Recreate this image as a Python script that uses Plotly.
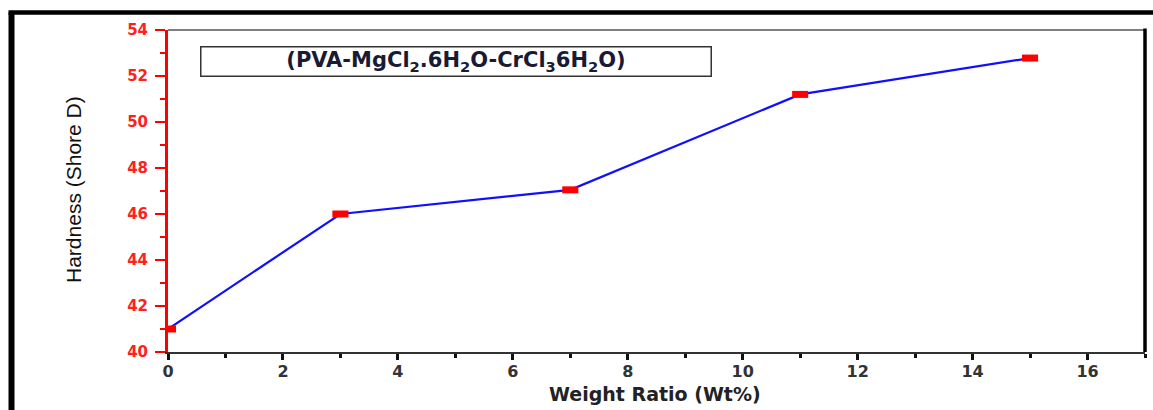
import plotly.graph_objects as go

# Data
weight_ratio = [0, 3, 7, 11, 15]
hardness = [41.0, 46.0, 47.05, 51.2, 52.78]
x_ticks = [0, 2, 4, 6, 8, 10, 12, 14, 16]
y_ticks = [40, 42, 44, 46, 48, 50, 52, 54]

W, H = 1153, 410
L, R, T, B = 168, 8, 30, 58
pw, ph = W - L - R, H - T - B

def px(xp):
    return (xp - L) / pw

def py(yp):
    return (H - B - yp) / ph

fig = go.Figure()
fig.add_trace(go.Scatter(
    x=weight_ratio, y=hardness, mode="lines",
    line=dict(color="#1010ff", width=2.2), showlegend=False, hoverinfo="skip"))
fig.add_trace(go.Scatter(
    x=weight_ratio, y=hardness, mode="markers",
    marker=dict(size=1, color="rgba(0,0,0,0)"),
    error_x=dict(type="constant", value=0.14, thickness=7, width=0, color="#ff0000"),
    showlegend=False, hoverinfo="skip"))

tickfont_y = dict(family="DejaVu Sans", size=15, color="#ff2020", weight="bold")
tickfont_x = dict(family="DejaVu Sans", size=16, color="#333333", weight="bold")

fig.update_layout(
    width=W, height=H,
    margin=dict(l=L, r=R, t=T, b=B),
    paper_bgcolor="white", plot_bgcolor="white",
    xaxis=dict(range=[0, 17], tickvals=x_ticks, showgrid=False, zeroline=False,
               showline=True, linecolor="#333333", linewidth=2,
               ticks="outside", ticklen=6, tickwidth=3, tickcolor="#111111",
               minor=dict(dtick=1, ticks="outside", ticklen=4, tickwidth=3, tickcolor="#111111"),
               tickfont=tickfont_x, ticklabelstandoff=-2),
    yaxis=dict(range=[40, 54], tickvals=y_ticks, showgrid=False, zeroline=False,
               showline=True, linecolor="#ff0000", linewidth=3,
               ticks="outside", ticklen=10, tickwidth=2, tickcolor="#ff0000",
               minor=dict(dtick=1, ticks="outside", ticklen=5, tickwidth=2, tickcolor="#ff0000"),
               tickfont=tickfont_y, ticklabelstandoff=4),
)

# plot frame (top & right)
fig.add_shape(type="line", xref="paper", yref="paper", x0=0, x1=1, y0=1, y1=1,
              line=dict(color="#555555", width=1.5), layer="below")
fig.add_shape(type="line", xref="paper", yref="paper", x0=1, x1=1, y0=0, y1=1.005,
              line=dict(color="#000000", width=3.5), layer="below")
# outer frame
fig.add_shape(type="line", xref="paper", yref="paper", x0=px(11.5), x1=px(11.5), y0=py(12.5), y1=py(420),
              line=dict(color="#000000", width=6))
fig.add_shape(type="line", xref="paper", yref="paper", x0=px(8.5), x1=px(1160), y0=py(12.5), y1=py(12.5),
              line=dict(color="#000000", width=4.5))

fig.add_annotation(
    xref="paper", yref="paper", x=px(456), y=py(62), xanchor="center", yanchor="middle",
    text="(PVA-MgCl<sub>2</sub>.6H<sub>2</sub>O-CrCl<sub>3</sub>6H<sub>2</sub>O)",
    showarrow=False, font=dict(family="DejaVu Sans", size=21, color="#1a1a33", weight="bold"),
    bordercolor="#333333", borderwidth=1.5, borderpad=1, width=507, height=26, align="center")

fig.add_annotation(
    xref="paper", yref="paper", x=px(73), y=py(190), xanchor="center", yanchor="middle",
    text="Hardness (Shore D)", textangle=-90, showarrow=False,
    font=dict(family="Liberation Sans", size=21, color="#111111"))

fig.add_annotation(
    xref="paper", yref="paper", x=px(655), y=py(394), xanchor="center", yanchor="middle",
    text="Weight Ratio (Wt%)", showarrow=False,
    font=dict(family="DejaVu Sans", size=19, color="#222222", weight="bold"))

fig.write_html("out.html")
